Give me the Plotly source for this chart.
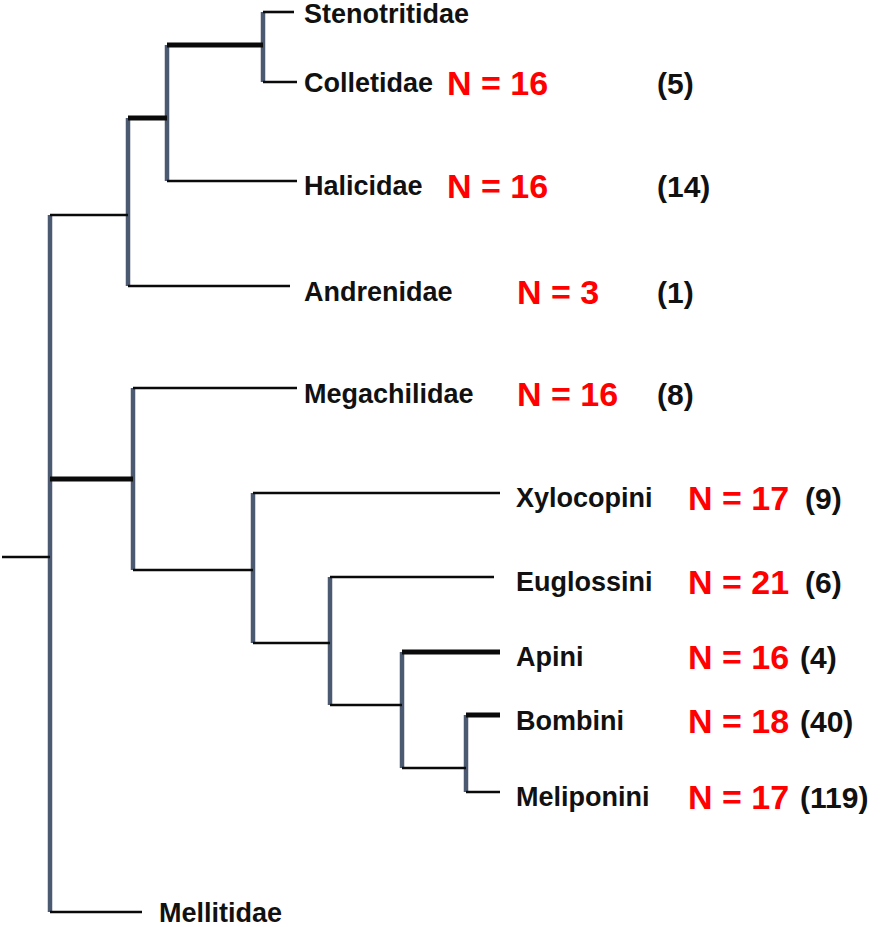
import plotly.graph_objects as go

# tree: node name, parent, depth (x) and row (y), in picture units
node_names = ["root", "n1", "n2", "n4", "n5", "Stenotritidae", "Colletidae", "Halicidae",
              "Andrenidae", "n3", "Megachilidae", "n6", "Xylocopini", "n7", "Euglossini",
              "n8", "Apini", "n9", "Bombini", "Meliponini", "Mellitidae"]
node_parent = [None, "root", "n1", "n2", "n4", "n5", "n5", "n4",
               "n2", "n1", "n3", "n3", "n6", "n6", "n7",
               "n7", "n8", "n8", "n9", "n9", "n1"]
node_depth = [2, 50, 128, 167, 263, 294, 297, 297,
              290, 133, 297, 253, 500, 330, 494,
              402, 500, 466, 500, 500, 142]
node_row = [557, 557, 215, 118, 45, 12, 82, 181,
            286, 479, 388, 570, 493, 643, 577,
            705, 652, 768, 715, 792, 912]
thick_branches = ["n4", "n5", "n3", "Apini", "Bombini"]

# tip annotations
taxa = ["Stenotritidae", "Colletidae", "Halicidae", "Andrenidae", "Megachilidae",
        "Xylocopini", "Euglossini", "Apini", "Bombini", "Meliponini", "Mellitidae"]
n_labels = [None, "N = 16", "N = 16", "N = 3", "N = 16",
            "N = 17", "N = 21", "N = 16", "N = 18", "N = 17", None]
counts = [None, "(5)", "(14)", "(1)", "(8)", "(9)", "(6)", "(4)", "(40)", "(119)", None]

# column layout for the text
label_col = [303, 303, 303, 303, 303, 515, 515, 515, 515, 515, 158]
n_col = [None, 446, 446, 516, 516, 687, 687, 687, 687, 687, None]
count_col = [None, 656, 656, 656, 656, 804, 804, 799, 799, 799, None]
label_dy = [2, 1, 5, 6, 6, 5, 5, 5, 6, 5, 1]

depth = dict(zip(node_names, node_depth))
row = dict(zip(node_names, node_row))
parent = dict(zip(node_names, node_parent))

H_COLOR = "#0a0a0a"
V_COLOR = "#4b5a70"

fig = go.Figure()

# vertical connectors at each internal node
for name in node_names:
    kids = [k for k in node_names if parent[k] == name]
    if len(kids) < 2:
        continue
    ys = [row[k] for k in kids]
    fig.add_trace(go.Scatter(x=[depth[name], depth[name]], y=[min(ys), max(ys)],
                             mode="lines", line=dict(color=V_COLOR, width=4.5),
                             hoverinfo="skip", showlegend=False))

# horizontal branches
for name in node_names:
    p = parent[name]
    if p is None:
        continue
    w = 5 if name in thick_branches else 2.6
    fig.add_trace(go.Scatter(x=[depth[p], depth[name]], y=[row[name], row[name]],
                             mode="lines", line=dict(color=H_COLOR, width=w),
                             hoverinfo="skip", showlegend=False))

FONT = "Liberation Sans, Arial, sans-serif"
for i, t in enumerate(taxa):
    y = row[t] + label_dy[i]
    # last label sits on the bottom edge, keep its box tight
    box_h = 28 if t == "Mellitidae" else None
    fig.add_annotation(x=label_col[i], y=y, text=t, showarrow=False,
                       xanchor="left", yanchor="middle", height=box_h, borderpad=0,
                       font=dict(family=FONT, size=27, color="#111111", weight="bold"))
    if n_labels[i]:
        fig.add_annotation(x=n_col[i], y=y, text=n_labels[i], showarrow=False,
                           xanchor="left", yanchor="middle", borderpad=0,
                           font=dict(family=FONT, size=34, color="#ff0000", weight="bold"))
    if counts[i]:
        fig.add_annotation(x=count_col[i], y=y, text=counts[i], showarrow=False,
                           xanchor="left", yanchor="middle", borderpad=0,
                           font=dict(family=FONT, size=30, color="#111111", weight="bold"))

fig.update_xaxes(range=[0, 886], visible=False, fixedrange=True)
fig.update_yaxes(range=[927, 0], visible=False, fixedrange=True)
fig.update_layout(width=886, height=927, margin=dict(l=0, r=0, t=0, b=0),
                  plot_bgcolor="white", paper_bgcolor="white")

# drop the default 8px page margin so the figure fills the window
fig.write_html("out.html", config={"displayModeBar": False},
               post_script="document.body.style.margin='0';")
